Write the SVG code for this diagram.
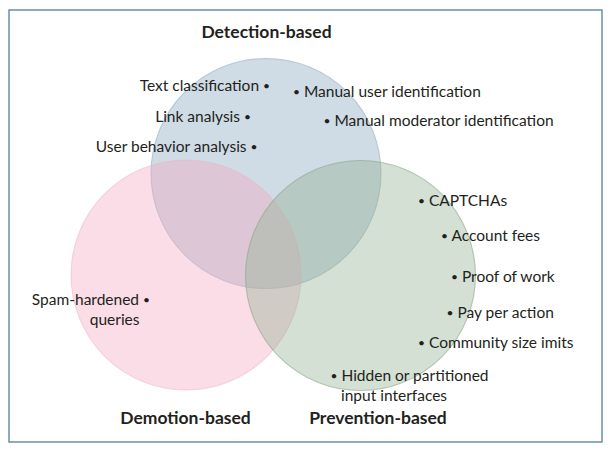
<svg xmlns="http://www.w3.org/2000/svg" width="610" height="454" viewBox="0 0 610 454">
<style>
text{font-family:Lato,"Open Sans","DejaVu Sans",sans-serif;font-size:15.5px;fill:#231f20}
.t{font-weight:bold;font-size:17.5px}
.e{text-anchor:end}
.c{text-anchor:middle}
.b{font-size:12px;baseline-shift:1.5px}
.circ{stroke-width:1.1}
</style>
<rect x="0" y="0" width="610" height="454" fill="#ffffff"/>
<rect x="9" y="10" width="593" height="432" fill="#ffffff" stroke="#6790a6" stroke-width="1.5"/>
<g id="venn">
<g id="detection"><circle class="circ" cx="266" cy="173.5" r="115" fill="rgb(135,165,190)" fill-opacity="0.4" stroke="rgb(150,175,195)" stroke-opacity="0.6"/></g>
<g id="demotion"><circle class="circ" cx="186" cy="275" r="115" fill="rgb(242,170,192)" fill-opacity="0.4" stroke="rgb(240,180,198)" stroke-opacity="0.5"/></g>
<g id="prevention"><circle class="circ" cx="360.5" cy="275.5" r="115" fill="rgb(145,177,145)" fill-opacity="0.4" stroke="rgb(140,165,140)" stroke-opacity="0.6"/></g>
</g>
<g id="titles">
<text class="t c" x="266.5" y="37.5">Detection-based</text>
<text class="t c" x="185.5" y="423.5">Demotion-based</text>
<text class="t c" x="378" y="423.5">Prevention-based</text>
</g>
<g id="labels">
<text class="e" x="270" y="90.5">Text classification <tspan class="b">•</tspan></text>
<text x="293" y="96.5"><tspan class="b">•</tspan> Manual user identification</text>
<text class="e" x="251" y="121.5">Link analysis <tspan class="b">•</tspan></text>
<text x="323.5" y="126"><tspan class="b">•</tspan> Manual moderator identification</text>
<text class="e" x="257.5" y="151.5">User behavior analysis <tspan class="b">•</tspan></text>
<text x="418" y="205.5"><tspan class="b">•</tspan> CAPTCHAs</text>
<text x="441" y="240.5"><tspan class="b">•</tspan> Account fees</text>
<text x="451" y="281.5"><tspan class="b">•</tspan> Proof of work</text>
<text x="446.5" y="317.5"><tspan class="b">•</tspan> Pay per action</text>
<text x="418" y="347.5"><tspan class="b">•</tspan> Community size imits</text>
<text x="330.5" y="380.5"><tspan class="b">•</tspan> Hidden or partitioned</text>
<text x="341" y="400.5">input interfaces</text>
<text class="e" x="150" y="305">Spam-hardened <tspan class="b">•</tspan></text>
<text class="e" x="139.5" y="324.5">queries</text>
</g>
</svg>
